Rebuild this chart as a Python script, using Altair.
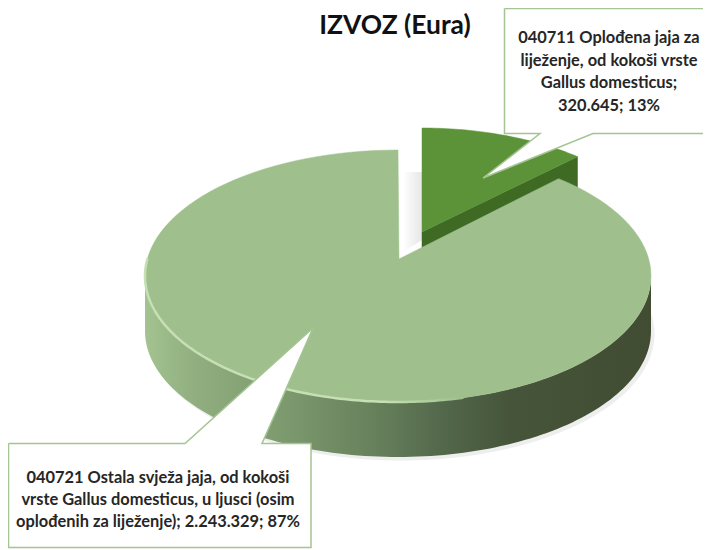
import math
import altair as alt
import pandas as pd

# ---- values
categories = ["040711", "040721"]
values = [320645, 2243329]
title_text = "IZVOZ (Eura)"
label_small = ["040711 Oplođena jaja za", "liježenje, od kokoši vrste", "Gallus domesticus;", "320.645; 13%"]
label_big = ["040721 Ostala svježa jaja, od kokoši", "vrste Gallus domesticus, u ljusci (osim", "oplođenih za liježenje); 2.243.329; 87%"]

FONT = "Lato"
share_small = values[0] / sum(values)
sweep_small = share_small * 360 * 0.875   # foreshortening of the tilted pie
START = 90.0
DEPTH = 55


def arc(cx, cy, a, b, t0, t1, n=120):
    return [(cx + a * math.cos(math.radians(t0 + (t1 - t0) * i / n)),
             cy - b * math.sin(math.radians(t0 + (t1 - t0) * i / n))) for i in range(n + 1)]


XS = alt.Scale(domain=[8, 703], range=[0, 695], nice=False, zero=False)
YS = alt.Scale(domain=[8, 549], range=[0, 541], nice=False, zero=False)


def poly(points, close=True, **mark):
    pts = list(points) + ([points[0]] if close else [])
    df = pd.DataFrame({"x": [p[0] for p in pts], "y": [p[1] for p in pts], "i": range(len(pts))})
    return alt.Chart(df).mark_line(interpolate="linear", clip=True, **mark).encode(
        x=alt.X("x:Q", scale=XS, axis=None),
        y=alt.Y("y:Q", scale=YS, axis=None),
        order="i:Q",
    )


def grad(stops, x1=0, x2=1, y1=0, y2=0):
    return alt.Gradient(gradient="linear", x1=x1, x2=x2, y1=y1, y2=y2,
                        stops=[alt.GradientStop(offset=o, color=c) for o, c in stops])


def text_block(lines, xc, y0, dy, size=16.4):
    df = pd.DataFrame({"t": lines, "x": [xc] * len(lines), "y": [y0 + i * dy for i in range(len(lines))]})
    return alt.Chart(df).mark_text(font=FONT, fontWeight="bold", fontSize=size, color="#262626",
                                   align="center", baseline="middle").encode(
        x=alt.X("x:Q", scale=XS, axis=None), y=alt.Y("y:Q", scale=YS, axis=None), text="t:N")


# big slice geometry
bc = (398, 276, 253, 126)
apex_big = (399, 259)
end_t = START - sweep_small
big_arc = arc(*bc, START, end_t + 360)
big_top = [apex_big] + big_arc

# small slice geometry (exploded)
sc = (422, 254, 245, 126)
apex_small = (422, 232)
small_arc = arc(*sc, START, START - sweep_small, 40)
small_top = [apex_small] + small_arc
small_wall = [apex_small, small_arc[-1], (small_arc[-1][0], small_arc[-1][1] + DEPTH), (apex_small[0], apex_small[1] + DEPTH)]

# visible rim of the big slice
rim_top = arc(*bc, 180, 360)
rim_bot = [(x, y + DEPTH) for x, y in rim_top][::-1]
side = rim_top + rim_bot
shadow = [(x + 3, y + 3) for x, y in arc(bc[0], bc[1] + DEPTH, bc[2], bc[3], 150, 390)]
gap_shadow = [(403, 172), (422, 172), (422, 240), (403, 252)]

side_grad = grad([(0, "#a3c390"), (0.1, "#90ae7f"), (0.3, "#7a966c"), (0.45, "#67815c"),
                  (0.6, "#52664a"), (0.72, "#465539"), (1, "#414c33")])

# callouts (the right edge of the page cuts the upper one, as in the reference)
call_small = [(504.5, 8.5), (720, 8.5), (720, 133.5), (593, 133.5), (483, 178), (540, 133.5), (504.5, 133.5)]
call_big = [(8.5, 443.5), (185, 443.5), (313, 328), (262, 443.5), (311, 443.5), (311, 547.5), (8.5, 547.5)]

title_df = pd.DataFrame({"t": [title_text], "x": [395], "y": [26]})
title = alt.Chart(title_df).mark_text(font=FONT, fontWeight="bold", fontSize=26.4, color="#111111",
                                      align="center", baseline="middle").encode(
    x=alt.X("x:Q", scale=XS, axis=None), y=alt.Y("y:Q", scale=YS, axis=None), text="t:N")

chart = alt.layer(
    poly(gap_shadow, fill=grad([(0, "#ffffff"), (1, "#e6e6e6")]), strokeWidth=0),
    poly(shadow, close=False, fill="#eeeeee", stroke="#eeeeee", strokeWidth=1),
    poly(small_wall, fill="#3e6a24", stroke="#3e6a24", strokeWidth=0.5),
    poly(small_top, fill="#5c9338", stroke="#5c9338", strokeWidth=0.5),
    poly(side, fill=side_grad, strokeWidth=0),
    poly(big_top, fill="#9fc08d", stroke="#9fc08d", strokeWidth=0.5),
    poly(arc(*bc, 172, 285), close=False, strokeWidth=2.5,
         stroke=grad([(0, "#c6dfb4"), (0.75, "#c6dfb4"), (1, "#9fc08d")])),
    poly(call_small, fill="#ffffff", stroke="#a5c493", strokeWidth=1.5),
    poly(call_big, fill="#ffffff", stroke="#a5c493", strokeWidth=1.5),
    title,
    text_block(label_small, 609, 38, 22.5),
    text_block(label_big, 158, 478, 22),
).properties(width=695, height=541, padding=0, autosize=alt.AutoSizeParams(type="none")
).configure_view(stroke=None)

chart.save("out.html", embed_options={"renderer": "svg", "actions": False})
